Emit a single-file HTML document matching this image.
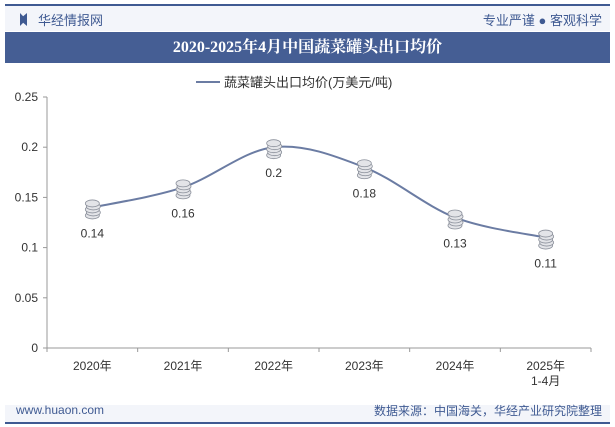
<!DOCTYPE html>
<html><head><meta charset="utf-8"><style>
body{margin:0;width:615px;height:427px;background:#fff;font-family:"Liberation Sans","Noto Sans CJK SC",sans-serif;position:relative;overflow:hidden}
.abs{position:absolute}
</style></head><body>
<div class="abs" style="left:5px;top:4px;width:605px;height:2px;background:#3f5a92"></div>
<div class="abs" style="left:5px;top:6px;width:605px;height:25px;background:#f3f5fa"></div>
<div class="abs" style="left:20px;top:13px;width:7px;height:13px;background:#3f5a92;clip-path:polygon(0 0,45% 25%,100% 0,100% 100%,45% 75%,0 100%)"></div>
<div class="abs" style="left:38px;top:10px;font-size:13px;color:#3f5a92">华经情报网</div>
<div class="abs" style="right:13px;top:10px;font-size:13px;color:#3f5a92">专业严谨 ● 客观科学</div>
<div class="abs" style="left:5px;top:32px;width:605px;height:31px;background:#455e94;color:#fff;font-size:16px;font-weight:bold;text-align:center;line-height:31px;font-family:'Liberation Serif','Noto Serif CJK SC',serif">2020-2025年4月中国蔬菜罐头出口均价</div>
<svg class="abs" style="left:0;top:0" width="615" height="427">
<g id="g"></g>
</svg>
<div class="abs" style="left:5px;top:405px;width:605px;height:17px;background:#f3f5fa"></div>
<div class="abs" style="left:5px;top:422px;width:605px;height:2px;background:#3f5a92"></div>
<div class="abs" style="left:16px;top:403px;font-size:12px;color:#3f5a92">www.huaon.com</div>
<div class="abs" style="right:13px;top:402px;font-size:12px;color:#3f5a92">数据来源：中国海关，华经产业研究院整理</div>
<script>
const categories=["2020年","2021年","2022年","2023年","2024年","2025年"];
const values=[0.14,0.16,0.2,0.18,0.13,0.11];
const labels=["0.14","0.16","0.2","0.18","0.13","0.11"];
const yTicks=[0,0.05,0.1,0.15,0.2,0.25];
const g=document.getElementById('g');const NS='http://www.w3.org/2000/svg';
const x0=47,x1=591,yb=348,yt=97;
const band=(x1-x0)/categories.length;
const X=i=>x0+band*(i+0.5);const Y=v=>yb-(v/0.25)*(yb-yt);
function mk(t,a,txt){const e=document.createElementNS(NS,t);for(const k in a)e.setAttribute(k,a[k]);if(txt!=null)e.textContent=txt;g.appendChild(e);return e;}
let e=mk('line',{x1:x0,y1:yb,x2:x1,y2:yb,stroke:'#999'});

e=mk('line',{x1:x0,y1:yt,x2:x0,y2:yb,stroke:'#999'});

yTicks.forEach(t=>{const y=Y(t);
const l=mk('line',{x1:x0-4,y1:y,x2:x0,y2:y,stroke:'#999'});

const tx=mk('text',{x:x0-9,y:y+4,'text-anchor':'end','font-size':12,fill:'#333'},String(t));
});
for(let i=0;i<=categories.length;i++){const l=mk('line',{x1:x0+band*i,y1:yb,x2:x0+band*i,y2:yb+4,stroke:'#999'});
}
categories.forEach((c,i)=>{const t=mk('text',{x:X(i),y:yb+22,'text-anchor':'middle','font-size':12,fill:'#333'},c);

if(i==categories.length-1){const t2=mk('text',{x:X(i),y:yb+37,'text-anchor':'middle','font-size':12,fill:'#333'},'1-4月');}});
const pts=values.map((v,i)=>[X(i),Y(v)]);
let d='M'+pts[0][0]+','+pts[0][1];
for(let i=0;i<pts.length-1;i++){const p0=pts[i-1]||pts[i],p1=pts[i],p2=pts[i+1],p3=pts[i+2]||p2;
d+=` C${p1[0]+(p2[0]-p0[0])/6},${p1[1]+(p2[1]-p0[1])/6} ${p2[0]-(p3[0]-p1[0])/6},${p2[1]-(p3[1]-p1[1])/6} ${p2[0]},${p2[1]}`;}
e=mk('path',{d:d,fill:'none',stroke:'#6b7ca3','stroke-width':2});

pts.forEach((p,i)=>{
[8,5,2,-1,-4].forEach(o=>{const c=mk('ellipse',{cx:p[0]+(o%2?1:0),cy:p[1]+o,rx:7,ry:3.5,fill:'#e3e4e8',stroke:'#8a8f9a','stroke-width':0.8});
});
const t=mk('text',{x:p[0],y:p[1]+30,'text-anchor':'middle','font-size':12,fill:'#333'},labels[i]);
});
e=mk('line',{x1:196,y1:82,x2:220,y2:82,stroke:'#6b7ca3','stroke-width':2});

e=mk('text',{x:224,y:87,'font-size':13,fill:'#333'},'蔬菜罐头出口均价(万美元/吨)');

</script>
</body></html>
